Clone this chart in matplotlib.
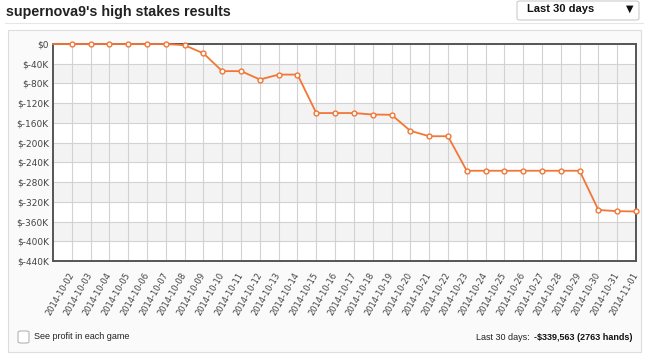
import numpy as np
import matplotlib.pyplot as plt
from matplotlib.patches import Rectangle, FancyBboxPatch

# dates shown on the x axis (first point 2014-10-01 is the unlabeled start)
dates = ["2014-10-%02d" % d for d in range(2, 32)] + ["2014-11-01"]
start_value = 0
profit = [0, 0, 0, 0, 0, 0, -2500, -19000, -55000, -55000,
          -72000, -62000, -62000, -140000, -140000, -140000, -143000, -143500,
          -176000, -187000, -187000, -257000, -257000, -257000, -257000,
          -257000, -257000, -257000, -336500, -339000, -339563]
yticks = list(range(0, -440001, -40000))

line_col = "#f27636"

fig = plt.figure(figsize=(6.48, 3.56), dpi=100)
fig.patch.set_facecolor("white")

W, H = 648, 356
def fx(px):
    return px / W
def fy(py):
    return 1 - py / H

# title and dropdown
fig.text(fx(6), fy(12), "supernova9's high stakes results", fontsize=10.3,
         fontweight="bold", family="Liberation Sans", color="#222222", va="center")
fig.patches.append(FancyBboxPatch((fx(517), fy(20)), fx(122), 19 / H,
                                  boxstyle="round,pad=0,rounding_size=0.005",
                                  transform=fig.transFigure, facecolor="white",
                                  edgecolor="#cccccc", lw=0.8))
fig.text(fx(527), fy(9), "Last 30 days", fontsize=8, fontweight="bold",
         family="Liberation Sans", color="#111111", va="center")
fig.text(fx(630), fy(9), "\u25bc", fontsize=7, color="#111111", va="center", ha="center")
fig.lines.append(plt.Line2D([fx(5), fx(643)], [fy(23), fy(23)],
                            transform=fig.transFigure, color="#e6e6e6", lw=0.8))

# container panel
fig.patches.append(Rectangle((fx(8), fy(352)), fx(633), (352 - 30) / H,
                             transform=fig.transFigure, facecolor="#fafafa",
                             edgecolor="#dddddd", lw=0.8, zorder=0))

ax = fig.add_axes([fx(53), fy(261), fx(636 - 53), (261 - 44) / H])
ax.set_zorder(3)
ax.set_facecolor("white")

x = np.arange(len(dates) + 1)
y = [start_value] + profit
ax.plot(x, y, color=line_col, lw=1.3, zorder=3,
        marker="o", markersize=3.5, markerfacecolor="white",
        markeredgecolor=line_col, markeredgewidth=1.0,
        markevery=list(range(1, len(x))), clip_on=False)

# alternating bands
for i in range(len(yticks) - 1):
    if i % 2 == 1:
        ax.axhspan(yticks[i + 1], yticks[i], color="#f3f3f3", zorder=0, lw=0)

ax.set_xlim(0, len(dates))
ax.set_ylim(-440000, 0)
ax.set_yticks(yticks)
ax.set_yticklabels(["$0"] + ["$%dK" % (v // 1000) for v in yticks[1:]])
ax.set_xticks(x[1:])
ax.set_xticklabels(dates, rotation=60, ha="right", va="center",
                   rotation_mode="anchor")
ax.grid(True, color="#d2d2d2", lw=0.8, zorder=1)
ax.set_axisbelow(True)
ax.tick_params(axis="both", length=0, labelsize=6, colors="#444444")
ax.tick_params(axis="y", labelsize=6.5, pad=3)
ax.tick_params(axis="x", pad=9)
for s in ax.spines.values():
    s.set_color("#555555")
    s.set_linewidth(1.4)

# footer
fig.patches.append(FancyBboxPatch((fx(18), fy(343)), fx(11), 12 / H,
                                  boxstyle="round,pad=0,rounding_size=0.004",
                                  transform=fig.transFigure, facecolor="white",
                                  edgecolor="#aaaaaa", lw=0.7))
fig.text(fx(34), fy(336.5), "See profit in each game", fontsize=6.5,
         family="Liberation Sans", color="#222222", va="center")
fig.text(fx(632), fy(337), "-$339,563 (2763 hands)", fontsize=6.5,
         fontweight="bold", family="Liberation Sans", color="#111111",
         va="center", ha="right")
fig.text(fx(530), fy(337), "Last 30 days:", fontsize=6.5,
         family="Liberation Sans", color="#222222", va="center", ha="right")

fig.savefig("out.png", dpi=100)
